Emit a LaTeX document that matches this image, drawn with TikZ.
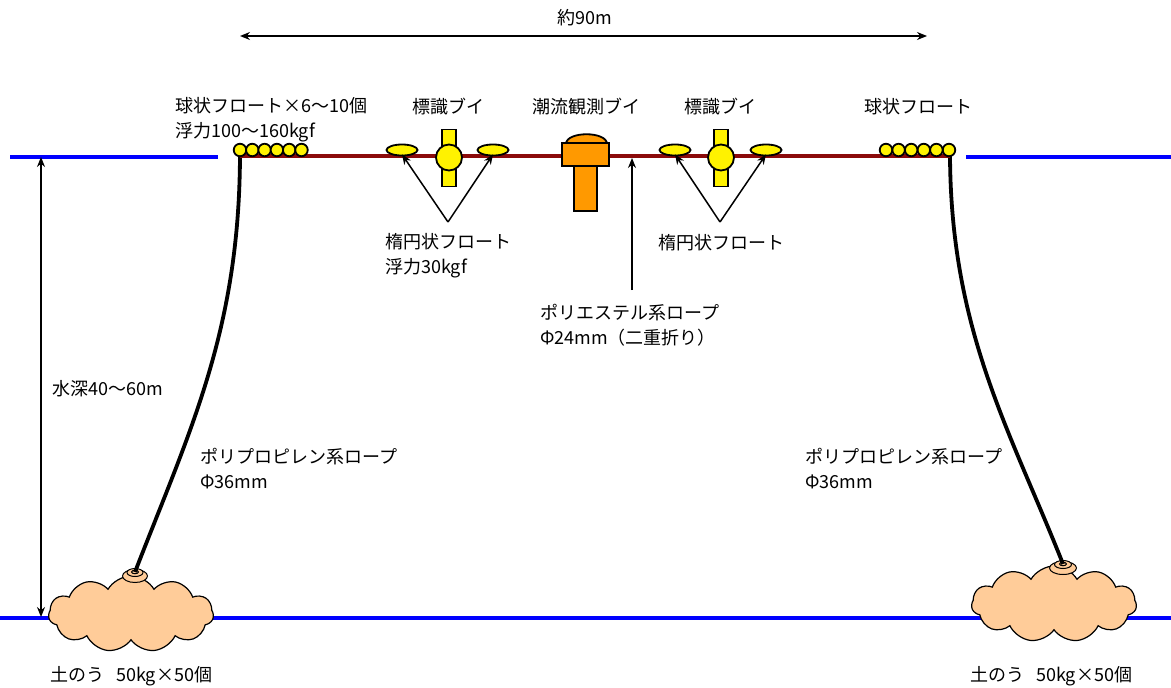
\documentclass[tikz,border=0pt]{standalone}
\usepackage{fontspec}
\setmainfont{Noto Sans CJK JP}
\usetikzlibrary{shapes.geometric,shapes.symbols,arrows.meta}

\definecolor{ropered}{HTML}{8B0A0A}
\definecolor{sand}{HTML}{FFCC99}
\definecolor{buoyorange}{HTML}{FF9900}

\begin{document}
\begin{tikzpicture}[x=1pt,y=-1pt,
  lbl/.style={font=\fontsize{18}{25}\selectfont, inner sep=0pt, align=left},
  water/.style={draw=blue, line width=4pt},
  surfrope/.style={draw=ropered, line width=3.8pt},
  mooring/.style={draw=black, line width=3.8pt},
  ball/.style={circle, draw=black, line width=1.8pt, fill=yellow, minimum size=12.5pt, inner sep=0pt},
  ellip/.style={ellipse, draw=black, line width=1.8pt, fill=yellow, minimum width=31pt, minimum height=11pt, inner sep=0pt},
  markbar/.style={rectangle, draw=black, line width=1.8pt, fill=yellow, minimum width=14pt, minimum height=57pt, inner sep=0pt},
  markball/.style={circle, draw=black, line width=1.8pt, fill=yellow, minimum size=26pt, inner sep=0pt},
  ptr/.style={-{Stealth[length=10pt,width=8pt]}, line width=1.5pt},
  dim/.style={{Stealth[length=10pt,width=8pt]}-{Stealth[length=10pt,width=8pt]}, line width=1.5pt},
  sandbag/.style={cloud, cloud puffs=11, cloud puff arc=120, aspect=2.3, draw=black, line width=1.2pt, fill=sand, minimum width=165pt, minimum height=76pt, inner sep=0pt},
  knot/.style={ellipse, draw=black, line width=1pt, fill=sand, inner sep=0pt}
]
\useasboundingbox (0,0) rectangle (1171,688);

% overall span
\coordinate (spanL) at (240,36);
\coordinate (spanR) at (927,36);
\draw[dim] (spanL) -- (spanR);
\node[lbl] (spanlbl) at (585,18) {約90m};

% sea surface and sea bed
\coordinate (surfL0) at (10,157);
\coordinate (surfL1) at (218,157);
\coordinate (surfR0) at (966,157);
\coordinate (surfR1) at (1171,157);
\draw[water] (surfL0) -- (surfL1);
\draw[water] (surfR0) -- (surfR1);
\coordinate (bedL) at (0,618);
\coordinate (bedR) at (1171,618);
\draw[water] (bedL) -- (bedR);

% water depth
\coordinate (depthT) at (41,157);
\coordinate (depthB) at (41,617);
\draw[dim] (depthT) -- (depthB);
\node[lbl, anchor=west] (depthlbl) at (52,389) {水深40〜60m};

% sandbag anchors
\node[sandbag] (bagL) at (131,614) {};
\node[sandbag] (bagR) at (1054,604) {};
\node[knot, minimum width=25pt, minimum height=13pt] (knotL) at (135,576) {};
\node[knot, minimum width=16pt, minimum height=8pt] (knotLi) at (135,572.5) {};
\node[knot, minimum width=7pt, minimum height=3.5pt] (knotLc) at (135,572) {};
\node[knot, minimum width=27pt, minimum height=13pt] (knotR) at (1063,568) {};
\node[knot, minimum width=17pt, minimum height=8pt] (knotRi) at (1063,564.5) {};
\node[knot, minimum width=7pt, minimum height=3.5pt] (knotRc) at (1063,564) {};

% mooring ropes
\coordinate (topL) at (240,152);
\coordinate (topR) at (950,152);
\draw[mooring] (topL) .. controls (240,330) and (190,430) .. (knotLc.center);
\draw[mooring] (topR) .. controls (950,330) and (1010,430) .. (knotRc.center);

% surface rope
\draw[surfrope] (240,156) -- (950,156);

% spherical floats
\foreach \i in {0,...,5} {
  \node[ball] (fl\i) at (240+12.3*\i,150) {};
}
\foreach \i in {0,...,5} {
  \node[ball] (fr\i) at (949-12.6*\i,150) {};
}

% marker buoy groups
\node[ellip] (e1) at (402,150) {};
\node[markbar] (bar1) at (449,158) {};
\node[markball] (mb1) at (449,157.5) {};
\node[ellip] (e2) at (493,150) {};
\node[ellip] (e3) at (675,150) {};
\node[markbar] (bar2) at (721,158) {};
\node[markball] (mb2) at (721,157.5) {};
\node[ellip] (e4) at (766,150) {};

% tidal current observation buoy
\draw[draw=black, line width=1.8pt, fill=buoyorange] (566,144) .. controls (566,131) and (607,131) .. (607,144) -- cycle;
\node[rectangle, draw=black, line width=1.8pt, fill=buoyorange, minimum width=23pt, minimum height=46pt, inner sep=0pt] (stem) at (585.5,188) {};
\node[rectangle, draw=black, line width=1.8pt, fill=buoyorange, minimum width=47pt, minimum height=23pt, inner sep=0pt] (obsbuoy) at (585.5,154.5) {};

% labels above surface
\node[lbl, anchor=west] (ballLlbl) at (175,120) {球状フロート×6〜10個\\浮力100〜160kgf};
\node[lbl] (mark1lbl) at (448,107) {標識ブイ};
\node[lbl] (obslbl) at (586,107) {潮流観測ブイ};
\node[lbl] (mark2lbl) at (720,107) {標識ブイ};
\node[lbl] (ballRlbl) at (918,107) {球状フロート};

% elliptical float callouts
\coordinate (apex1) at (448,222);
\coordinate (apex2) at (720,222);
\draw[ptr] (apex1) -- ([yshift=2pt]e1.south);
\draw[ptr] (apex1) -- ([yshift=2pt]e2.south);
\draw[ptr] (apex2) -- ([yshift=2pt]e3.south);
\draw[ptr] (apex2) -- ([yshift=2pt]e4.south);
\node[lbl, anchor=west] (ell1lbl) at (385,256) {楕円状フロート\\浮力30kgf};
\node[lbl, anchor=west] (ell2lbl) at (658,243) {楕円状フロート};

% polyester rope callout
\coordinate (polyT) at (632,158);
\coordinate (polyB) at (632,290);
\draw[ptr] (polyB) -- (polyT);
\node[lbl, anchor=west] (polylbl) at (540,325) {ポリエステル系ロープ\\Φ24mm（二重折り）};

% mooring rope labels
\node[lbl, anchor=west] (ppLlbl) at (200,469) {ポリプロピレン系ロープ\\Φ36mm};
\node[lbl, anchor=west] (ppRlbl) at (805,469) {ポリプロピレン系ロープ\\Φ36mm};

% sandbag labels
\node[lbl, anchor=west] (bagLlbl) at (50,676) {土のう\hspace{12pt}50kg×50個};
\node[lbl, anchor=west] (bagRlbl) at (970,676) {土のう\hspace{12pt}50kg×50個};
\end{tikzpicture}
\end{document}
